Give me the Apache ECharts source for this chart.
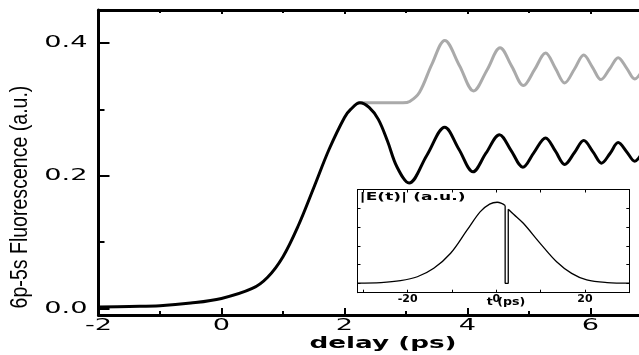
<!DOCTYPE html>
<html>
<head>
<meta charset="utf-8">
<script src="https://cdn.jsdelivr.net/npm/echarts@6/dist/echarts.min.js"></script>
<style>
  html, body { margin: 0; padding: 0; background: #fff; }
  #chart { width: 639px; height: 355px; }
</style>
</head>
<body>
<div id="chart"></div>
<script>
// main curves: [delay (ps), fluorescence]
const fluorBlack = [
  [-2, 0.002], [-1.5, 0.003], [-1, 0.004], [-0.5, 0.008], [0, 0.015], [0.5, 0.03],
  [0.75, 0.047], [1.0, 0.078], [1.25, 0.125], [1.5, 0.182], [1.75, 0.24], [2.0, 0.288],
  [2.1, 0.3], [2.25, 0.31], [2.4, 0.303], [2.55, 0.285], [2.7, 0.252], [2.85, 0.214],
  [3.05, 0.189], [3.34, 0.231], [3.63, 0.273], [3.86, 0.24], [4.09, 0.206], [4.3, 0.234],
  [4.52, 0.262], [4.71, 0.238], [4.9, 0.213], [5.08, 0.235], [5.27, 0.257], [5.43, 0.237],
  [5.58, 0.217], [5.74, 0.235], [5.89, 0.253], [6.04, 0.236], [6.18, 0.219], [6.32, 0.234],
  [6.45, 0.25], [6.59, 0.236], [6.72, 0.222], [6.86, 0.236], [7.0, 0.248]
]
const fluorGray = [
  [2.2, 0.309], [2.25, 0.31], [2.6, 0.31], [2.95, 0.31], [3.06, 0.312], [3.22, 0.326],
  [3.42, 0.368], [3.63, 0.404], [3.87, 0.366], [4.1, 0.328], [4.32, 0.36], [4.53, 0.393],
  [4.72, 0.365], [4.91, 0.336], [5.09, 0.36], [5.27, 0.385], [5.43, 0.362], [5.58, 0.34],
  [5.74, 0.361], [5.89, 0.382], [6.03, 0.364], [6.17, 0.345], [6.31, 0.361], [6.45, 0.378],
  [6.59, 0.362], [6.72, 0.346], [6.86, 0.36], [7.0, 0.373]
]

// inset |E(t)|: [t (ps), amplitude]
const pulseLeft = [
  [-31.3, 0.01], [-26, 0.04], [-21.6, 0.14], [-17.8, 0.35], [-14.1, 0.8], [-10.3, 1.6],
  [-6.6, 2.83], [-3.6, 3.82], [-1.5, 4.22], [0.2, 4.32], [1.2, 4.26], [2.0, 4.15]
]
const pulseNotch = [[2.0, 4.15], [2.0, 0], [2.7, 0], [2.7, 3.95]]
const pulseRight = [
  [2.7, 3.95], [3.9, 3.68], [6.1, 3.2], [9.9, 2.13], [13.6, 1.15], [17, 0.53],
  [20.4, 0.18], [25, 0.04], [30, 0.01]
]

const xTicks = [-2, 0, 2, 4, 6]
const xTickLabels = ['-2', '0', '2', '4', '6']
const yTicks = [0, 0.2, 0.4]
const yTickLabels = ['0.0', '0.2', '0.4']
const yMinorTicks = [0.1, 0.3]
const insetXTicks = [-30, -20, -10, 0, 10, 20, 30]
const insetXLabels = [-20, 0, 20]
const insetYTicks = [0, 1, 2, 3, 4]

const chart = echarts.init(document.getElementById('chart'))

const black = '#000'
const line = (w, show) => ({ show: show !== false, onZero: false, lineStyle: { color: black, width: w } })
const tickStyle = (len, w) => ({ show: true, inside: true, length: len, lineStyle: { color: black, width: w } })

chart.setOption({
  animation: false,
  grid: [
    { left: 98.5, top: 10, width: 615, bottom: 40, outerBoundsMode: 'none' },
    {
      left: 357.5, top: 189.5, right: 9.7, bottom: 62.3, outerBoundsMode: 'none',
      show: true, backgroundColor: '#fff', borderWidth: 0, z: 3
    }
  ],
  xAxis: [
    {
      gridIndex: 0, type: 'value', min: -2, max: 8, interval: 2, position: 'bottom',
      axisLine: line(3), axisTick: tickStyle(7, 2),
      minorTick: { show: true, splitNumber: 2, length: 4, lineStyle: { color: black, width: 2 } },
      axisLabel: { show: false }, splitLine: { show: false }
    },
    {
      gridIndex: 0, type: 'value', min: -2, max: 8, interval: 2, position: 'top',
      axisLine: line(3), axisTick: tickStyle(4, 2),
      minorTick: { show: true, splitNumber: 2, length: 3, lineStyle: { color: black, width: 2 } },
      axisLabel: { show: false }, splitLine: { show: false }
    },
    {
      gridIndex: 1, type: 'value', min: -31.3, max: 30, position: 'bottom', z: 4,
      axisLine: line(1),
      axisTick: Object.assign(tickStyle(3, 1), { customValues: insetXTicks }),
      axisLabel: {
        customValues: insetXLabels, margin: 1, color: black,
        fontFamily: 'DejaVu Sans', fontWeight: 'bold', fontSize: 11
      },
      splitLine: { show: false }
    },
    {
      gridIndex: 1, type: 'value', min: -31.3, max: 30, position: 'top', z: 4,
      axisLine: line(1),
      axisTick: Object.assign(tickStyle(3, 1), { customValues: insetXTicks }),
      axisLabel: { show: false }, splitLine: { show: false }
    }
  ],
  yAxis: [
    {
      gridIndex: 0, type: 'value', min: -0.01, max: 0.45, position: 'left',
      axisLine: line(3),
      axisTick: Object.assign(tickStyle(11, 2), { customValues: yTicks }),
      axisLabel: { show: false }, splitLine: { show: false }
    },
    {
      gridIndex: 0, type: 'value', min: -0.01, max: 0.45, position: 'left', offset: 0,
      axisLine: line(1, false),
      axisTick: Object.assign(tickStyle(6, 2), { customValues: yMinorTicks }),
      axisLabel: { show: false }, splitLine: { show: false }
    },
    {
      gridIndex: 1, type: 'value', min: -0.5, max: 5, position: 'left', z: 4,
      axisLine: line(1),
      axisTick: Object.assign(tickStyle(3, 1), { customValues: insetYTicks }),
      axisLabel: { show: false }, splitLine: { show: false }
    },
    {
      gridIndex: 1, type: 'value', min: -0.5, max: 5, position: 'right', z: 4,
      axisLine: line(1),
      axisTick: Object.assign(tickStyle(3, 1), { customValues: insetYTicks }),
      axisLabel: { show: false }, splitLine: { show: false }
    }
  ],
  series: [
    {
      type: 'line', xAxisIndex: 0, yAxisIndex: 0, data: fluorGray, smooth: 0.35,
      showSymbol: false, lineStyle: { color: '#aaaaaa', width: 3 }
    },
    {
      type: 'line', xAxisIndex: 0, yAxisIndex: 0, data: fluorBlack, smooth: 0.35,
      showSymbol: false, lineStyle: { color: black, width: 3 }
    },
    {
      type: 'line', xAxisIndex: 2, yAxisIndex: 2, data: pulseLeft, smooth: 0.35, z: 5,
      showSymbol: false, lineStyle: { color: black, width: 1.3 }
    },
    {
      type: 'line', xAxisIndex: 2, yAxisIndex: 2, data: pulseNotch, z: 5,
      showSymbol: false, lineStyle: { color: black, width: 1.3 }
    },
    {
      type: 'line', xAxisIndex: 2, yAxisIndex: 2, data: pulseRight, smooth: 0.35, z: 5,
      showSymbol: false, lineStyle: { color: black, width: 1.3 }
    }
  ]
})

// wide tick labels, placed through the axis scales
const wideFont = '16px "DejaVu Sans"'
const axisX = chart.convertToPixel({ xAxisIndex: 0 }, -2)
const axisY = chart.convertToPixel({ yAxisIndex: 0 }, -0.01)
const txt = (text, font, align) => ({
  text, font, fill: black, textAlign: align, align, textVerticalAlign: 'middle', verticalAlign: 'middle'
})
const labels = []
yTicks.forEach((v, i) => {
  labels.push({
    type: 'text', x: axisX - 11, y: chart.convertToPixel({ yAxisIndex: 0 }, v), scaleX: 1.7,
    style: txt(yTickLabels[i], wideFont, 'right')
  })
})
xTicks.forEach((v, i) => {
  labels.push({
    type: 'text', x: chart.convertToPixel({ xAxisIndex: 0 }, v), y: axisY + 11, scaleX: 1.7,
    style: txt(xTickLabels[i], wideFont, 'center')
  })
})
labels.push({ type: 'text', x: 383, y: 344, scaleX: 1.75, style: txt('delay (ps)', 'bold 15px "DejaVu Sans"', 'center') })
labels.push({
  type: 'text', x: 21, y: 197, rotation: Math.PI / 2, scaleX: 0.85,
  style: txt('6p-5s Fluorescence (a.u.)', '23px "Liberation Sans", Arial, sans-serif', 'center')
})
labels.push({ type: 'text', x: 359.5, y: 197.5, scaleX: 1.55, z: 10, style: txt('|E(t)| (a.u.)', 'bold 11px "DejaVu Sans"', 'left') })
labels.push({ type: 'text', x: 506, y: 302.5, scaleX: 1.15, z: 10, style: txt('t (ps)', 'bold 11px "DejaVu Sans"', 'center') })
chart.setOption({ graphic: labels })
</script>
</body>
</html>
